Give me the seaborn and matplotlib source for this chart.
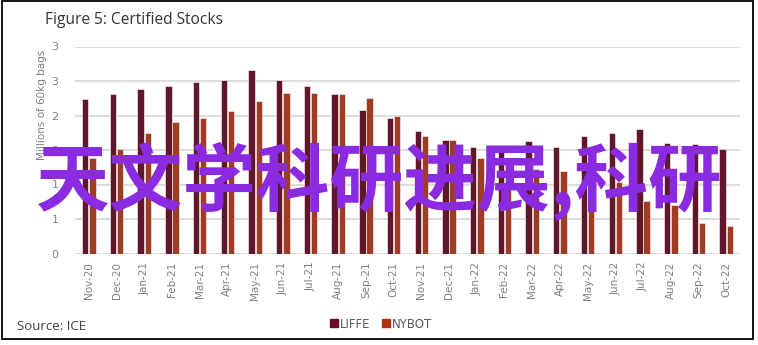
import matplotlib
matplotlib.use("Agg")
import matplotlib.pyplot as plt
from matplotlib.lines import Line2D
from matplotlib.patches import Rectangle
from matplotlib.ticker import FuncFormatter, MultipleLocator
import seaborn as sns
import pandas as pd

months = ["Nov-20", "Dec-20", "Jan-21", "Feb-21", "Mar-21", "Apr-21", "May-21", "Jun-21",
          "Jul-21", "Aug-21", "Sep-21", "Oct-21", "Nov-21", "Dec-21", "Jan-22", "Feb-22",
          "Mar-22", "Apr-22", "May-22", "Jun-22", "Jul-22", "Aug-22", "Sep-22", "Oct-22"]
liffe = [2.24, 2.31, 2.39, 2.43, 2.49, 2.52, 2.66, 2.52, 2.43, 2.31, 2.08, 1.96,
         1.78, 1.65, 1.55, 1.53, 1.63, 1.55, 1.70, 1.75, 1.80, 1.60, 1.59, 1.51]
nybot = [1.39, 1.51, 1.74, 1.91, 1.97, 2.07, 2.21, 2.32, 2.32, 2.31, 2.25, 2.00,
         1.71, 1.65, 1.38, 1.30, 1.22, 1.20, 1.15, 1.03, 0.76, 0.71, 0.44, 0.40]
series_names = ["LIFFE", "NYBOT"]
colors = ["#6B0B24", "#B3300F"]

title = "Figure 5: Certified Stocks"
y_label = "Millions of 60kg bags"
source = "Source: ICE"
overlay = "天文学科研进展,科研"

df = pd.DataFrame({
    "month": months * 2,
    "value": liffe + nybot,
    "series": [series_names[0]] * len(months) + [series_names[1]] * len(months),
})

sns.set_theme(style="white")
plt.rcParams["font.family"] = ["DejaVu Sans"]

W, H = 758, 345
fig = plt.figure(figsize=(W / 100, H / 100), dpi=100)
ax = fig.add_axes([75 / W, (H - 253.5) / H, (740 - 75) / W, (253.5 - 46.5) / H])

sns.barplot(data=df, x="month", y="value", hue="series", palette=colors,
            width=0.52, gap=0.12, edgecolor="#f4e6e6", linewidth=0.5,
            legend=False, ax=ax)

ax.set_xlim(-0.5, len(months) - 0.5)
ax.set_ylim(0, 3)
ax.yaxis.set_major_locator(MultipleLocator(0.5))
ax.yaxis.set_major_formatter(FuncFormatter(lambda v, p: f"{int(v + 0.5 + 1e-9)}"))
ax.grid(axis="y", color="#d9d9d9", linewidth=1.3)
ax.set_axisbelow(True)
for s in ax.spines.values():
    s.set_visible(False)
ax.set_xlabel("")
ax.set_ylabel("")
ax.tick_params(axis="y", length=0, pad=12, labelsize=8, labelcolor="#7f7f7f")
ax.tick_params(axis="x", length=0, pad=6, labelsize=7.5, labelcolor="#7f7f7f")
for lbl in ax.get_xticklabels():
    lbl.set_rotation(90)
    lbl.set_family(["Liberation Sans Narrow", "DejaVu Sans"])
for lbl in ax.get_yticklabels():
    lbl.set_family(["Liberation Sans Narrow", "DejaVu Sans"])

fig.text(42 / W, 1 - 50 / H, y_label, rotation=90, ha="center", va="top",
         fontsize=7.5, color="#7f7f7f", family=["Liberation Sans Narrow", "DejaVu Sans"])

fig.text(45 / W, 1 - 20 / H, title, ha="left", va="center", fontsize=11.2,
         color="#333333", family=["Open Sans", "DejaVu Sans"])
fig.text(17 / W, 1 - 326 / H, source, ha="left", va="center", fontsize=9.5,
         color="#404040", family=["Open Sans", "DejaVu Sans"])

handles = [Line2D([], [], marker="s", linestyle="", markersize=5.5,
                  markerfacecolor=c, markeredgecolor=c) for c in colors]
fig.legend(handles, series_names, loc="center", bbox_to_anchor=(381 / W, 1 - 324 / H),
           ncol=2, frameon=False, fontsize=8.5, handletextpad=0.1, columnspacing=0.9,
           handlelength=0.8, labelcolor="#595959")

fig.text(379 / W, 1 - 181 / H, overlay, ha="center", va="center", fontsize=53,
         color="#8A2BE2", fontweight="bold",
         family=["Noto Sans CJK SC", "DejaVu Sans"])

fig.add_artist(Rectangle((1.5 / W, 6 / H), 751.5 / W, (H - 6.5) / H,
                         transform=fig.transFigure, fill=False,
                         edgecolor="black", linewidth=1.3))

fig.savefig("out.png", dpi=100)
